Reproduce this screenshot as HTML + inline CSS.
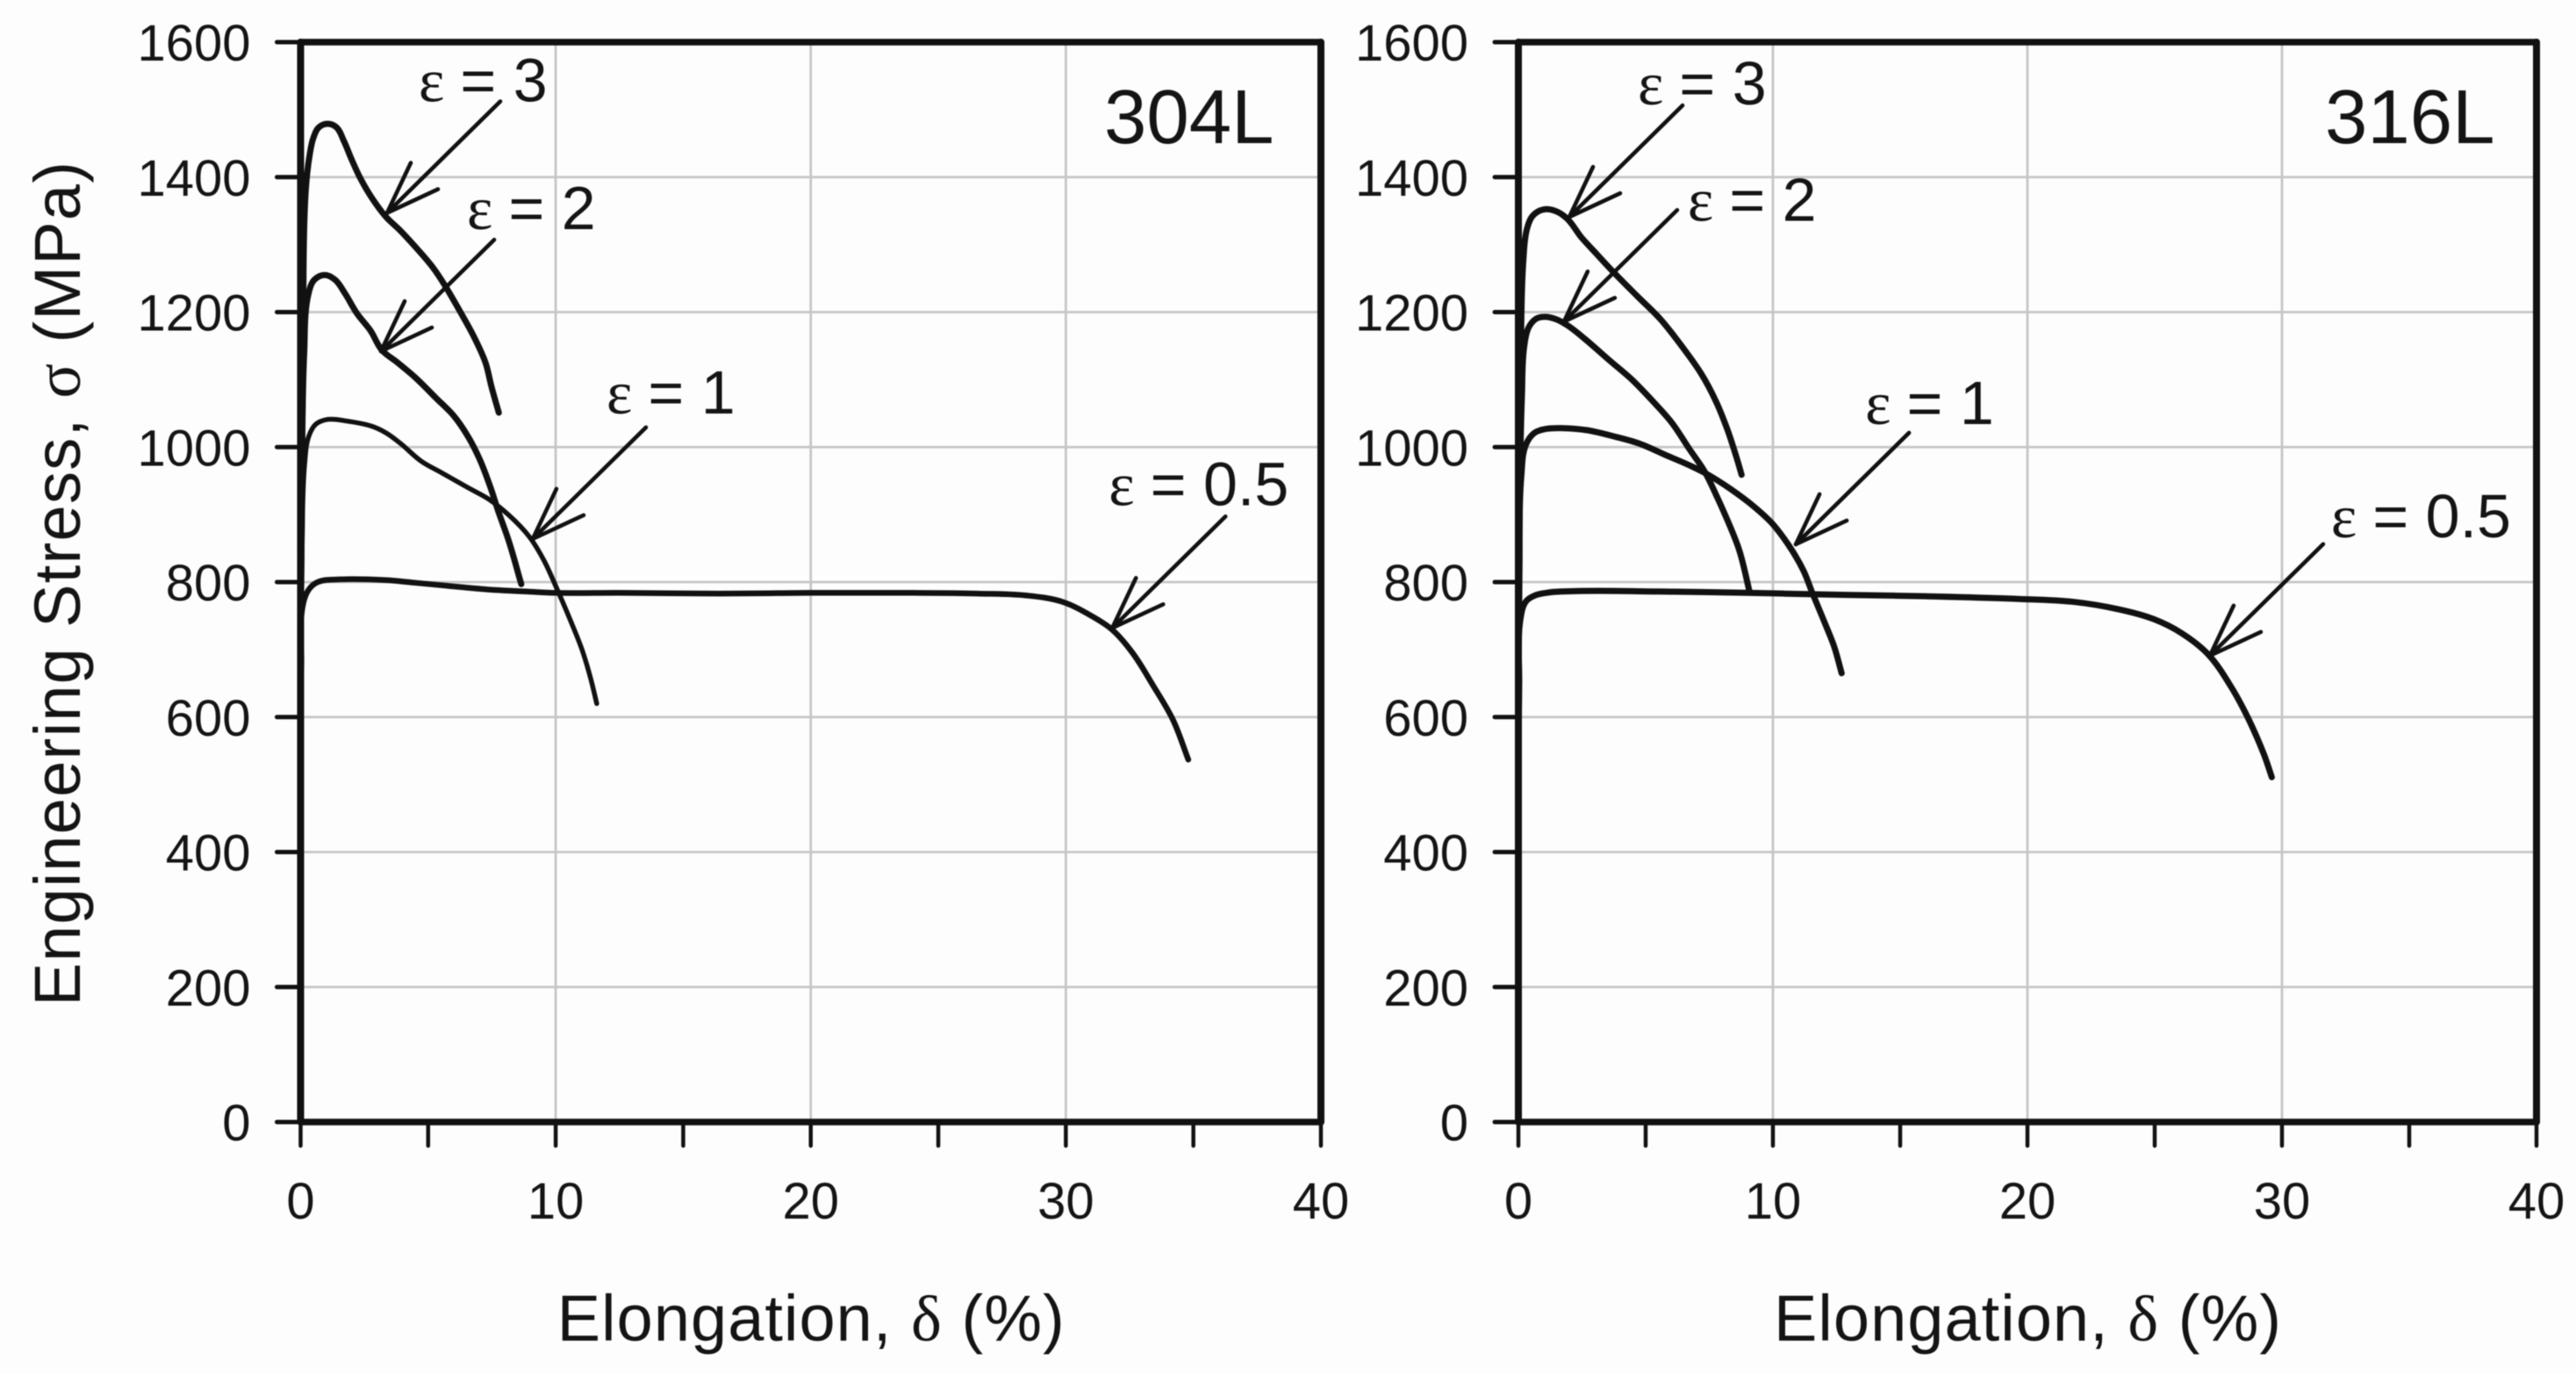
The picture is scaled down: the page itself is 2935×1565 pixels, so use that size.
<!DOCTYPE html>
<html lang="en">
<head>
<meta charset="utf-8">
<title>Engineering stress vs elongation, 304L and 316L</title>
<style>
html,body{margin:0;padding:0;background:#fefdfd;}
svg{display:block;filter:blur(0.6px);}
text{font-family:"Liberation Sans",sans-serif;fill:#141414;}
.sym{font-family:"Liberation Serif",serif;}
</style>
</head>
<body>
<svg id="chart" xmlns="http://www.w3.org/2000/svg" width="2935" height="1565" viewBox="0 0 2935 1565">
<rect x="0" y="0" width="2935" height="1565" fill="#fefdfd"/>
</svg>
<script>
// Axis tick values
const yTicks = [0, 200, 400, 600, 800, 1000, 1200, 1400, 1600];
const xGridTicks = [10, 20, 30];
const xMarkTicks = [0, 5, 10, 15, 20, 25, 30, 35, 40];
const xTickLabels = [0, 10, 20, 30, 40];

// 304L curves: elongation (%) and stress (MPa)
const x304e05 = [0, 0.03, 0.09, 0.32, 0.67, 1.55, 3.35, 4.5, 5.87, 7.36, 8.86, 10, 12.5, 16.4, 20, 24, 26.55, 28.5, 29.85, 31, 31.8, 32.6, 33.4, 34.2, 34.8];
const y304e05 = [500, 680, 766, 789, 800, 804, 803, 799, 794, 789, 786, 784, 784, 783, 784, 784, 783, 780, 771, 750, 730, 696, 648, 596, 537];
const x304e1 = [0, 0.06, 0.16, 0.32, 0.6, 1.06, 1.75, 2.78, 3.35, 3.93, 4.73, 5.53, 6.56, 7.37, 8.17, 8.97, 9.54, 10.06, 10.58, 11.03, 11.38, 11.61];
const y304e1 = [600, 850, 975, 1016, 1034, 1041, 1039, 1031, 1021, 1005, 979, 962, 940, 923, 899, 867, 832, 789, 743, 700, 656, 620];
const x304e2 = [0, 0.05, 0.14, 0.32, 0.54, 0.95, 1.35, 1.75, 2.21, 2.75, 3.18, 3.81, 4.5, 5.3, 5.99, 6.56, 7.02, 7.42, 7.76, 8.17, 8.65];
const y304e2 = [700, 950, 1140, 1229, 1248, 1255, 1248, 1227, 1198, 1172, 1144, 1125, 1103, 1073, 1047, 1016, 982, 943, 904, 860, 797];
const x304e3 = [0, 0.04, 0.1, 0.2, 0.35, 0.5, 0.72, 1.06, 1.4, 1.69, 1.98, 2.32, 2.78, 3.35, 3.93, 4.61, 5.19, 5.65, 6.22, 6.79, 7.25, 7.48, 7.77];
const y304e3 = [700, 900, 1200, 1380, 1432, 1458, 1474, 1479, 1474, 1454, 1428, 1400, 1370, 1341, 1320, 1292, 1266, 1240, 1203, 1164, 1125, 1090, 1051];

// 316L curves: elongation (%) and stress (MPa)
const x316e05 = [0, 0.03, 0.08, 0.29, 0.63, 1.09, 1.67, 5.57, 9.02, 12.93, 16, 19.66, 21.75, 23.55, 24.97, 26.07, 27.1, 28.03, 28.7, 29.3, 29.6];
const y316e05 = [500, 650, 745, 771, 780, 784, 786, 786, 784, 781, 779, 775, 771, 760, 745, 724, 693, 643, 596, 544, 511];
const x316e1 = [0, 0.04, 0.12, 0.29, 0.63, 1.09, 1.78, 2.7, 3.74, 4.77, 5.8, 6.72, 7.41, 8.33, 9.25, 9.94, 10.63, 11.2, 11.55, 12, 12.41, 12.7];
const y316e1 = [600, 820, 960, 1003, 1021, 1027, 1028, 1025, 1016, 1005, 988, 973, 960, 938, 912, 888, 854, 817, 784, 743, 704, 665];
const x316e2 = [0, 0.05, 0.14, 0.23, 0.4, 0.69, 1.03, 1.44, 1.9, 2.59, 3.5, 4.43, 5.23, 6.03, 6.72, 7.3, 7.76, 8.22, 8.68, 9.08];
const y316e2 = [700, 930, 1080, 1150, 1177, 1190, 1193, 1190, 1181, 1161, 1131, 1101, 1070, 1036, 997, 965, 930, 891, 847, 786];
const x316e3 = [0, 0.05, 0.1, 0.2, 0.34, 0.57, 0.98, 1.44, 1.9, 2.47, 3.05, 3.74, 4.66, 5.57, 6.49, 7.18, 7.76, 8.22, 8.56, 8.77];
const y316e3 = [700, 950, 1150, 1280, 1324, 1343, 1352, 1350, 1339, 1311, 1287, 1259, 1224, 1190, 1146, 1109, 1068, 1025, 986, 959];

// Annotation strain labels with the curve point each arrow indicates
const strainLabels = ['3', '2', '1', '0.5'];
const arrowX304 = [3.39, 3.15, 9.1, 31.82];
const arrowY304 = [1347, 1142, 864, 732];
const arrowX316 = [2.0, 1.79, 10.9, 27.17];
const arrowY316 = [1341, 1186, 856, 691];

const svg = document.getElementById('chart');
const NS = 'http://www.w3.org/2000/svg';
const xTop = 48, yBottom = 1278, yMax = 1600, xMax = 40;
function yScale(v) { return yBottom - (v / yMax) * (yBottom - xTop); }

function addLine(name, x1, y1, x2, y2, stroke, width, parent) {
  const el = document.createElementNS(NS, 'line');
  
  
  el.setAttribute('x1', x1);
  el.setAttribute('y1', y1);
  el.setAttribute('x2', x2);
  el.setAttribute('y2', y2);
  el.setAttribute('stroke', stroke);
  el.setAttribute('stroke-width', width);
  el.setAttribute('stroke-linecap', 'round');
  (parent || svg).appendChild(el);
  return el;
}
function addText(name, x, y, str, size, anchor, parent) {
  const el = document.createElementNS(NS, 'text');
  
  
  el.setAttribute('x', x);
  el.setAttribute('y', y);
  el.setAttribute('font-size', size);
  el.setAttribute('text-anchor', anchor);
  el.textContent = str;
  (parent || svg).appendChild(el);
  return el;
}
function smoothPath(px, py) {
  const n = px.length;
  const seg = [];
  for (let i = 0; i < n - 1; i++) {
    seg.push(Math.hypot(px[i + 1] - px[i], py[i + 1] - py[i]) || 1);
  }
  const tx = [], ty = [];
  for (let i = 0; i < n; i++) {
    let ax = 0, ay = 0;
    if (i > 0) { ax += (px[i] - px[i - 1]) / seg[i - 1]; ay += (py[i] - py[i - 1]) / seg[i - 1]; }
    if (i < n - 1) { ax += (px[i + 1] - px[i]) / seg[i]; ay += (py[i + 1] - py[i]) / seg[i]; }
    const len = Math.hypot(ax, ay) || 1;
    tx.push(ax / len);
    ty.push(ay / len);
  }
  let d = 'M' + px[0].toFixed(1) + ' ' + py[0].toFixed(1);
  for (let i = 0; i < n - 1; i++) {
    const h = seg[i] / 3;
    d += 'C' + (px[i] + tx[i] * h).toFixed(1) + ' ' + (py[i] + ty[i] * h).toFixed(1) + ' ' +
      (px[i + 1] - tx[i + 1] * h).toFixed(1) + ' ' + (py[i + 1] - ty[i + 1] * h).toFixed(1) + ' ' +
      px[i + 1].toFixed(1) + ' ' + py[i + 1].toFixed(1);
  }
  return d;
}
function addCurve(name, xs, ys, xScale, width) {
  const el = document.createElementNS(NS, 'path');
  
  
  el.setAttribute('d', smoothPath(xs.map(xScale), ys.map(yScale)));
  el.setAttribute('fill', 'none');
  el.setAttribute('stroke', '#111');
  el.setAttribute('stroke-width', width);
  el.setAttribute('stroke-linecap', 'round');
  el.setAttribute('stroke-linejoin', 'round');
  svg.appendChild(el);
}
function addAnnotation(prefix, label, tipX, tipY, labelDx, labelDy) {
  const shaft = 4.6;
  addLine(prefix + '-arrow-shaft', tipX, tipY, tipX + 129, tipY - 127, '#111', shaft);
  addLine(prefix + '-arrow-head-upper', tipX, tipY, tipX + 27, tipY - 57, '#111', shaft);
  addLine(prefix + '-arrow-head-lower', tipX, tipY, tipX + 58, tipY - 27, '#111', shaft);
  const t = addText(prefix + '-label', tipX + labelDx, tipY + labelDy, '', 70, 'start');
  const eps = document.createElementNS(NS, 'tspan');
  eps.setAttribute('class', 'sym');
  eps.textContent = 'ε';
  t.appendChild(eps);
  const rest = document.createElementNS(NS, 'tspan');
  rest.setAttribute('dx', '18');
  rest.textContent = '= ' + label;
  t.appendChild(rest);
}

function drawPanel(id, x0, x1, series, arrowX, arrowY, labelDx, labelDy, title, titleX) {
  const xScale = v => x0 + (v / xMax) * (x1 - x0);
  // gridlines
  yTicks.slice(1, -1).forEach(v => {
    addLine(id + '-grid-y-' + v, x0, yScale(v), x1, yScale(v), '#c6c6c6', 2.8);
  });
  xGridTicks.forEach(v => {
    addLine(id + '-grid-x-' + v, xScale(v), xTop, xScale(v), yBottom, '#c6c6c6', 2.8);
  });
  // curves
  series.forEach(s => addCurve(id + '-curve-' + s.name, s.x, s.y, xScale, s.w));
  // frame
  addLine(id + '-axis-left', x0, xTop, x0, yBottom, '#111', 8);
  addLine(id + '-axis-right', x1, xTop, x1, yBottom, '#111', 8);
  addLine(id + '-axis-top', x0, xTop, x1, xTop, '#111', 7.5);
  addLine(id + '-axis-bottom', x0, yBottom, x1, yBottom, '#111', 7.5);
  // y ticks
  yTicks.forEach(v => {
    addLine(id + '-y-tick-' + v, x0 - 27, yScale(v), x0, yScale(v), '#111', 5);
    addText(id + '-y-tick-label-' + v, x0 - 57, yScale(v) + 21, String(v), 58, 'end');
  });
  // x ticks
  xMarkTicks.forEach(v => {
    addLine(id + '-x-tick-' + v, xScale(v), yBottom, xScale(v), yBottom + 27, '#111', 4.5);
  });
  xTickLabels.forEach(v => {
    addText(id + '-x-tick-label-' + v, xScale(v), yBottom + 110, String(v), 58, 'middle');
  });
  // annotations
  strainLabels.forEach((lab, i) => {
    addAnnotation(id + '-strain-' + lab, lab, xScale(arrowX[i]), yScale(arrowY[i]), labelDx[i], labelDy[i]);
  });
  // x axis title
  const xt = addText(id + '-x-axis-title', (x0 + x1) / 2, 1527, 'Elongation, ', 74, 'middle');
  const d = document.createElementNS(NS, 'tspan');
  d.setAttribute('class', 'sym');
  d.textContent = 'δ';
  xt.appendChild(d);
  xt.appendChild(document.createTextNode(' (%)'));
  xt.setAttribute('textLength', '578');
  // material title
  addText(id + '-material-title', titleX, 163, title, 87, 'start');
}

drawPanel('panel-304l', 342.5, 1505, [
  { name: 'strain-0-5', x: x304e05, y: y304e05, w: 6.5 },
  { name: 'strain-1', x: x304e1, y: y304e1, w: 5.5 },
  { name: 'strain-2', x: x304e2, y: y304e2, w: 7 },
  { name: 'strain-3', x: x304e3, y: y304e3, w: 7 }
], arrowX304, arrowY304, [36, 98, 84, -4], [-127, -139, -143, -140], '304L', 1258);

drawPanel('panel-316l', 1730, 2890, [
  { name: 'strain-0-5', x: x316e05, y: y316e05, w: 7 },
  { name: 'strain-1', x: x316e1, y: y316e1, w: 7 },
  { name: 'strain-2', x: x316e2, y: y316e2, w: 7 },
  { name: 'strain-3', x: x316e3, y: y316e3, w: 7 }
], arrowX316, arrowY316, [78, 141, 79, 138], [-128, -115, -137, -135], '316L', 2649);

// y axis title
const yt = addText('y-axis-title', 0, 0, 'Engineering Stress, ', 74, 'middle');
yt.setAttribute('transform', 'translate(91 665) rotate(-90)');
const sigma = document.createElementNS(NS, 'tspan');
sigma.setAttribute('class', 'sym');
sigma.textContent = 'σ';
yt.appendChild(sigma);
yt.appendChild(document.createTextNode(' (MPa)'));
yt.setAttribute('textLength', '962');
</script>
</body>
</html>
